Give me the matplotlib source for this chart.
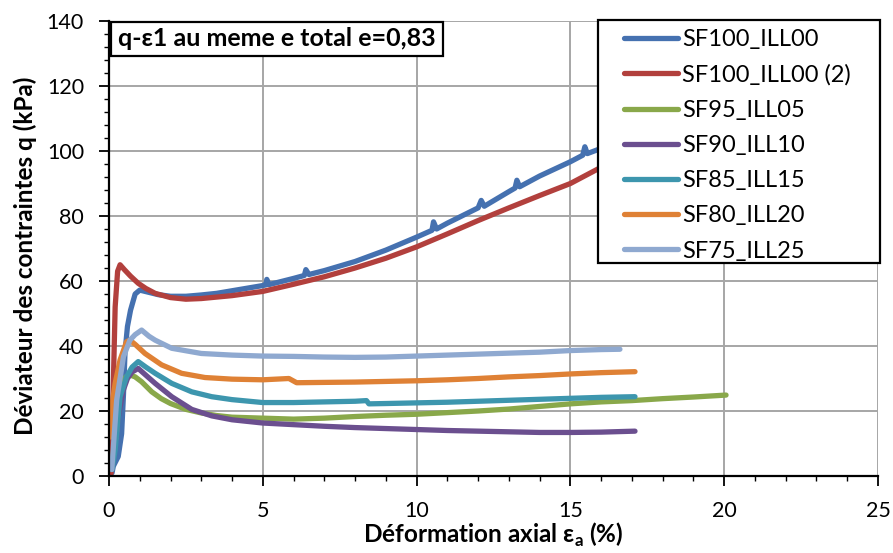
import numpy as np
import matplotlib
matplotlib.use("Agg")
import matplotlib.pyplot as plt
from matplotlib.ticker import MultipleLocator
from matplotlib.patches import Rectangle

plt.rcParams['font.family'] = ['Lato', 'DejaVu Sans']

# SF100_ILL00
x_sf100 = [0.10, 0.14, 0.30, 0.41, 0.47, 0.52, 0.60, 0.70, 0.85, 1.0, 1.3, 1.6, 2.0, 2.5,
           3.0, 3.5, 4.0, 4.5, 5.0, 5.1, 5.13, 5.2, 5.5, 6.0, 6.35, 6.4, 6.5, 7.0, 8.0, 9.0,
           10.0, 10.5, 10.55, 10.65, 11.0, 12.0, 12.1, 12.2, 13.0, 13.2, 13.26, 13.35, 14.0,
           15.0, 15.4, 15.47, 15.55, 16.0, 17.0]
q_sf100 = [1.0, 3.0, 6.0, 13.0, 25.0, 38.0, 46.0, 51.0, 56.0, 57.2, 56.5, 55.8, 55.3, 55.3,
           55.7, 56.2, 57.0, 57.8, 58.6, 58.8, 60.5, 58.9, 59.6, 60.8, 61.7, 63.5, 62.0, 63.2, 66.0, 69.5,
           73.5, 75.6, 78.2, 76.0, 77.8, 82.5, 84.8, 83.0, 87.5, 88.6, 91.0, 89.0, 92.3,
           96.7, 98.7, 101.3, 99.2, 100.8, 104.5]

# SF100_ILL00 (2)
x_sf100b = [0.03, 0.07, 0.10, 0.14, 0.20, 0.28, 0.36, 0.5, 0.7, 0.95, 1.2, 1.5, 2.0, 2.5,
            3.0, 4.0, 5.0, 6.0, 7.0, 8.0, 9.0, 10.0, 11.0, 12.0, 13.0, 14.0, 15.0, 16.0, 17.0]
q_sf100b = [0.0, 1.0, 10.0, 28.0, 52.0, 63.0, 65.0, 63.5, 61.5, 59.3, 57.7, 56.2, 54.9, 54.4,
            54.6, 55.5, 56.8, 59.0, 61.3, 64.0, 67.0, 70.5, 74.5, 78.6, 82.5, 86.3, 90.0, 95.0, 99.5]

# SF95_ILL05
x_sf95 = [0.08, 0.2, 0.3, 0.41, 0.55, 0.68, 0.85, 1.06, 1.39, 1.7, 2.0, 2.5, 3.0, 3.5, 4.0,
          5.0, 6.0, 7.0, 8.0, 9.0, 10.0, 11.0, 12.0, 13.0, 14.0, 15.0, 16.0, 17.0, 18.0, 19.0, 20.06]
q_sf95 = [2.0, 12.0, 20.0, 28.5, 30.5, 31.1, 30.5, 29.0, 25.9, 23.8, 22.3, 20.5, 19.4, 18.6, 18.1,
          17.8, 17.5, 17.8, 18.3, 18.7, 19.0, 19.5, 20.0, 20.6, 21.4, 22.2, 22.8, 23.2, 23.8, 24.3, 24.9]

# SF90_ILL10
x_sf90 = [0.1, 0.2, 0.3, 0.45, 0.6, 0.75, 0.95, 1.2, 1.5, 2.04, 2.69, 3.34, 4.0, 5.0, 6.0, 7.0,
          8.0, 9.0, 10.0, 11.0, 12.0, 13.0, 14.0, 15.0, 16.0, 17.1]
q_sf90 = [2.0, 10.0, 18.0, 26.0, 30.0, 32.0, 33.1, 31.0, 28.5, 24.4, 20.5, 18.5, 17.3, 16.3, 15.8,
          15.3, 14.9, 14.6, 14.3, 14.0, 13.8, 13.6, 13.4, 13.4, 13.5, 13.8]

# SF85_ILL15
x_sf85 = [0.1, 0.2, 0.36, 0.57, 0.75, 0.95, 1.2, 1.5, 2.04, 2.69, 3.34, 4.0, 5.0, 6.0, 7.0,
          8.0, 8.37, 8.45, 9.0, 10.0, 11.0, 12.0, 13.0, 14.0, 15.0, 16.0, 17.1]
q_sf85 = [2.0, 8.0, 24.4, 30.5, 33.5, 35.2, 33.5, 31.6, 28.5, 25.9, 24.4, 23.5, 22.6, 22.6, 22.8,
          23.0, 23.2, 22.2, 22.3, 22.5, 22.7, 23.0, 23.3, 23.6, 23.9, 24.2, 24.4]

# SF80_ILL20
x_sf80 = [0.05, 0.1, 0.2, 0.36, 0.57, 0.68, 0.85, 1.17, 1.71, 2.36, 3.12, 4.0, 5.0, 5.85, 6.1,
          7.0, 8.0, 9.0, 10.0, 11.0, 12.0, 13.0, 14.0, 15.0, 16.0, 17.1]
q_sf80 = [12.0, 22.0, 28.5, 35.7, 41.3, 41.8, 40.5, 37.7, 34.2, 31.6, 30.3, 29.8, 29.6, 30.0, 28.7,
          28.8, 28.9, 29.1, 29.3, 29.6, 30.0, 30.5, 30.9, 31.4, 31.8, 32.1]

# SF75_ILL25
x_sf75 = [0.09, 0.15, 0.25, 0.47, 0.68, 0.85, 1.06, 1.3, 1.5, 2.04, 3.0, 4.0, 5.0, 6.0, 7.0,
          8.0, 9.0, 10.0, 11.0, 12.0, 13.0, 14.0, 15.0, 16.0, 16.61]
q_sf75 = [2.0, 10.0, 23.4, 36.7, 41.8, 43.5, 44.9, 43.0, 41.8, 39.3, 37.7, 37.2, 36.9, 36.8, 36.6,
          36.5, 36.6, 36.9, 37.2, 37.5, 37.8, 38.1, 38.6, 38.9, 39.0]

series = [
    ("SF100_ILL00", x_sf100, q_sf100, "#4571b0"),
    ("SF100_ILL00 (2)", x_sf100b, q_sf100b, "#b2403d"),
    ("SF95_ILL05", x_sf95, q_sf95, "#89a84a"),
    ("SF90_ILL10", x_sf90, q_sf90, "#6b4f8f"),
    ("SF85_ILL15", x_sf85, q_sf85, "#3d96ae"),
    ("SF80_ILL20", x_sf80, q_sf80, "#df8135"),
    ("SF75_ILL25", x_sf75, q_sf75, "#8fa9d0"),
]

W, H = 893, 553
fig = plt.figure(figsize=(W / 100, H / 100), dpi=100)
ax = fig.add_axes([109/W, 1 - 476/H, 769/W, 455/H])

for name, xs, qs, col in series:
    ax.plot(xs, qs, color=col, lw=3.8, label=name, solid_capstyle='round', solid_joinstyle='round')

ax.set_xlim(0, 25)
ax.set_ylim(0, 140)
ax.xaxis.set_major_locator(MultipleLocator(5))
ax.xaxis.set_minor_locator(MultipleLocator(1))
ax.yaxis.set_major_locator(MultipleLocator(20))
ax.yaxis.set_minor_locator(MultipleLocator(4))
ax.grid(True, which='major', color='#a6a6a6', lw=1.4)
ax.set_axisbelow(True)
for s in ['top', 'right']:
    ax.spines[s].set_visible(False)
for s in ['left', 'bottom']:
    ax.spines[s].set_linewidth(1.6)
ax.tick_params(which='major', direction='out', length=7, width=1.3, labelsize=15.5, pad=11)
ax.tick_params(which='minor', direction='out', length=3.6, width=1.0)

ax.set_xlabel("Déformation axial ε$_\\mathregular{a}$ (%)", fontsize=17.5, fontweight='bold', labelpad=0)
ax.set_ylabel("Déviateur des contraintes q (kPa)", fontsize=17.5, fontweight='bold')
ax.yaxis.set_label_coords(-0.094, 0.4835)

# legend frame drawn by hand, legend text placed inside it
fig.patches.append(Rectangle((598/W, 1 - 263/H), 282/W, 243/H, transform=fig.transFigure,
                             fc='white', ec='black', lw=1.6, zorder=3))
fig.legend(handles=ax.get_lines(), loc='upper left', bbox_to_anchor=(624/W, 1 - 29/H),
           fontsize=17, frameon=False, handlelength=2.3, handletextpad=0.17,
           labelspacing=0.6, borderpad=0, borderaxespad=0)

fig.patches.append(Rectangle((111/W, 1 - 56/H), 332/W, 34/H, transform=fig.transFigure,
                             fc='white', ec='black', lw=1.6, zorder=3))
fig.text(118/W, 1 - 39/H, "q-ε1 au meme e total e=0,83", fontsize=18, fontweight='bold',
         ha='left', va='center', zorder=4)

fig.savefig("out.png", dpi=100)
